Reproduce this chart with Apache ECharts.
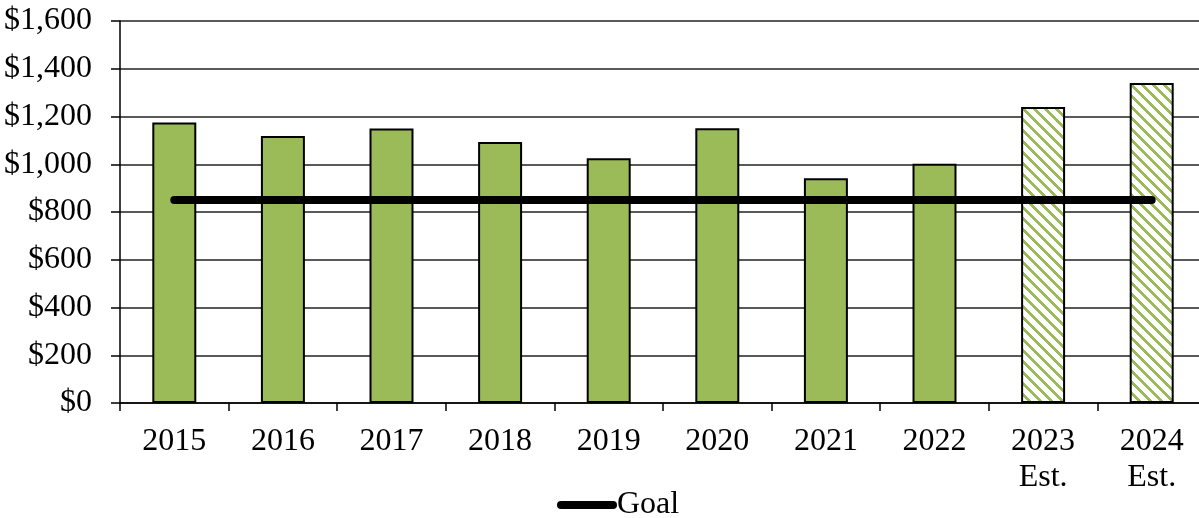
<!DOCTYPE html>
<html>
<head>
<meta charset="utf-8">
<script src="https://cdn.jsdelivr.net/npm/echarts@6/dist/echarts.min.js"></script>
<style>
html,body{margin:0;padding:0;background:#fff;overflow:hidden;}
#chart{width:1215px;height:518px;}
</style>
</head>
<body>
<div id="chart"></div>
<script>
var categories = ['2015','2016','2017','2018','2019','2020','2021','2022','2023\nEst.','2024\nEst.'];
var values = [1175, 1118, 1150, 1093, 1025, 1151, 941, 1002, 1240, 1340];
var estimated = [false,false,false,false,false,false,false,false,true,true];
var goalValue = 850;
var goalName = 'Goal';
var yTicks = {min: 0, max: 1600, interval: 200};

var FONT = "'Liberation Serif','Times New Roman',serif";
var GREEN = '#9BBB59';

function makeHatch() {
  var c = document.createElement('canvas');
  var n = 11;
  c.width = n; c.height = n;
  var ctx = c.getContext('2d');
  ctx.fillStyle = '#fff';
  ctx.fillRect(0,0,n,n);
  ctx.fillStyle = GREEN;
  for (var y = 0; y < n; y++) {
    for (var x = 0; x < n; x++) {
      var d = ((x - y) % n + n) % n;
      if (d < 4) ctx.fillRect(x, y, 1, 1);
    }
  }
  return c;
}
var hatch = makeHatch();

var barData = values.map(function(v, i) {
  return {
    value: v,
    itemStyle: estimated[i] ? {color: {image: hatch, repeat: 'repeat'}} : {color: GREEN}
  };
});
var goalData = categories.map(function(){ return goalValue; });

function money(v) {
  return '$' + String(v).replace(/\B(?=(\d{3})+(?!\d))/g, ',');
}

var chart = echarts.init(document.getElementById('chart'), null, {renderer: 'canvas'});
chart.setOption({
  animation: false,
  backgroundColor: '#fff',
  textStyle: {fontFamily: FONT},
  grid: {left: 120, top: 21, width: 1086, height: 382, containLabel: false},
  legend: {
    data: [{name: goalName, icon: 'path://M4,0 H56 A4,4 0 0 1 56,8 H4 A4,4 0 0 1 4,0 Z'}],
    left: 552, top: 484,
    itemWidth: 60, itemHeight: 9,
    textStyle: {fontFamily: FONT, fontSize: 32, color: '#000', padding: [0,0,0,-5]}
  },
  xAxis: {
    type: 'category',
    data: categories,
    boundaryGap: true,
    axisLine: {show: true, lineStyle: {color: '#000', width: 1.5}},
    axisTick: {show: true, length: 8, lineStyle: {color: '#000', width: 1.5}},
    axisLabel: {fontFamily: FONT, fontSize: 32, color: '#000', margin: 21, lineHeight: 36, interval: 0},
    splitLine: {show: false}
  },
  yAxis: {
    type: 'value',
    min: yTicks.min, max: yTicks.max, interval: yTicks.interval,
    axisLine: {show: true, lineStyle: {color: '#000', width: 1.5}},
    axisTick: {show: true, length: 9, lineStyle: {color: '#000', width: 1.5}},
    axisLabel: {fontFamily: FONT, fontSize: 32, color: '#000', margin: 28, formatter: money},
    splitLine: {show: true, lineStyle: {color: '#222', width: 1.5}}
  },
  series: [
    {
      type: 'bar',
      name: 'Value',
      data: barData,
      barWidth: '40.5%',
      itemStyle: {borderColor: '#000', borderWidth: 2},
      z: 2
    },
    {
      type: 'line',
      name: goalName,
      data: goalData,
      symbol: 'none',
      lineStyle: {color: '#000', width: 8, cap: 'round'},
      itemStyle: {color: '#000'},
      z: 5
    }
  ]
});
</script>
</body>
</html>
